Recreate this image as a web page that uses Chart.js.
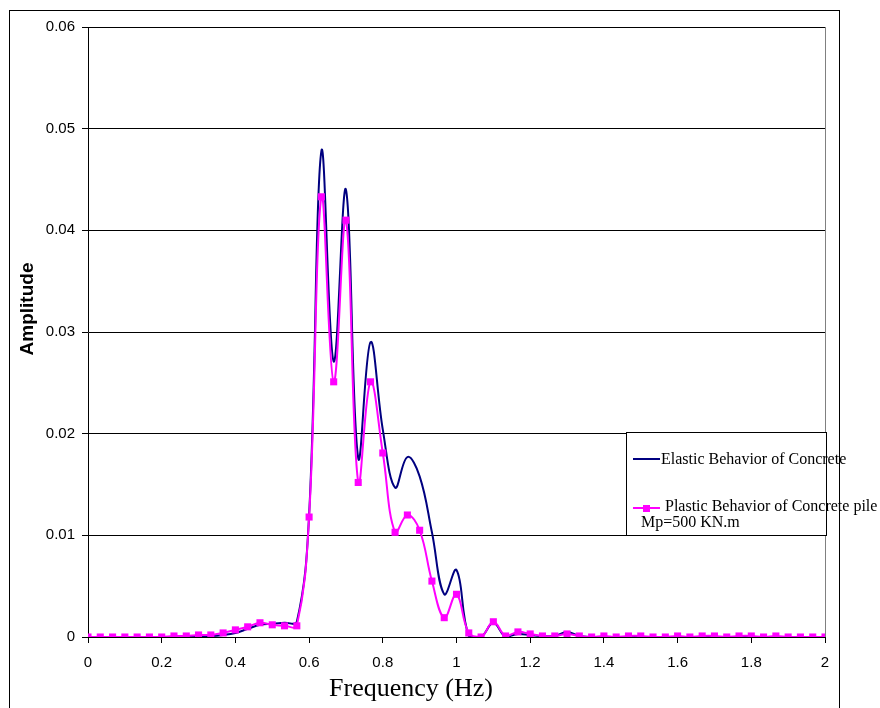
<!DOCTYPE html>
<html>
<head>
<meta charset="utf-8">
<script src="https://cdn.jsdelivr.net/npm/chart.js@4"></script>
<style>
  html, body { margin: 0; padding: 0; background: #fff; }
  #wrap { width: 880px; height: 708px; position: relative; }
</style>
</head>
<body>
<div id="wrap"><canvas id="freqChart" width="880" height="708"></canvas></div>
<script>
// frequency steps (Hz)
const freq = [0, 0.0333, 0.0667, 0.1, 0.1333, 0.1667, 0.2, 0.2333, 0.2667, 0.3,
  0.3333, 0.3667, 0.4, 0.4333, 0.4667, 0.5, 0.5333, 0.5667, 0.6, 0.6333,
  0.6667, 0.7, 0.7333, 0.7667, 0.8, 0.8333, 0.8667, 0.9, 0.9333, 0.9667,
  1.0, 1.0333, 1.0667, 1.1, 1.1333, 1.1667, 1.2, 1.2333, 1.2667, 1.3,
  1.3333, 1.3667, 1.4, 1.4333, 1.4667, 1.5, 1.5333, 1.5667, 1.6, 1.6333,
  1.6667, 1.7, 1.7333, 1.7667, 1.8, 1.8333, 1.8667, 1.9, 1.9333, 1.9667, 2.0];

// elastic behavior amplitudes
const elastic = [0, 0, 0, 0, 0, 0, 0, 0, 0, 0.0001,
  0.0001, 0.0002, 0.0004, 0.0008, 0.0012, 0.0013, 0.0014, 0.0015, 0.0120, 0.0478,
  0.0271, 0.0440, 0.0176, 0.0290, 0.0204, 0.0147, 0.0177, 0.0158, 0.0103, 0.0042,
  0.0066, 0.0001, 0, 0.0014, 0, 0.0003, 0.0002, 0.0001, 0.0001, 0.0005,
  0.0001, 0, 0, 0, 0, 0, 0, 0, 0, 0,
  0, 0, 0, 0, 0, 0, 0, 0, 0, 0, 0];

// plastic behavior amplitudes (Mp=500 KN.m)
const plastic = [0, 0, 0, 0, 0, 0, 0, 0.0001, 0.0001, 0.0002,
  0.0002, 0.0004, 0.0007, 0.0010, 0.0014, 0.0012, 0.0011, 0.0011, 0.0118, 0.0433,
  0.0251, 0.0410, 0.0152, 0.0251, 0.0181, 0.0103, 0.0120, 0.0105, 0.0055, 0.0019,
  0.0042, 0.0004, 0, 0.0015, 0.0001, 0.0005, 0.0003, 0.0001, 0.0001, 0.0003,
  0.0001, 0, 0.0001, 0, 0.0001, 0.0001, 0, 0, 0.0001, 0,
  0.0001, 0.0001, 0, 0.0001, 0.0001, 0, 0.0001, 0, 0, 0, 0];

const seriesNames = ['Elastic Behavior of Concrete', 'Plastic Behavior of Concrete pile', 'Mp=500 KN.m'];

const toPoints = arr => arr.map((v, i) => ({ x: freq[i], y: v }));

// frame, titles and the boxed legend, drawn on top
const decorations = {
  id: 'decorations',
  afterDraw(chart) {
    const ctx = chart.ctx;
    const a = chart.chartArea;
    ctx.save();
    // outer frame
    ctx.strokeStyle = '#000';
    ctx.lineWidth = 1;
    ctx.strokeRect(9.5, 10.5, 830, 720);
    // right border of plot area
    ctx.strokeStyle = '#808080';
    ctx.beginPath();
    ctx.moveTo(a.right + 0.5, a.top);
    ctx.lineTo(a.right + 0.5, a.bottom);
    ctx.stroke();

    // axis titles
    ctx.fillStyle = '#000';
    ctx.font = '26px "Liberation Serif", "Times New Roman", serif';
    ctx.textAlign = 'center';
    ctx.textBaseline = 'middle';
    ctx.fillText('Frequency (Hz)', 411, 689);
    ctx.translate(28, 309);
    ctx.rotate(-Math.PI / 2);
    ctx.font = 'bold 19px "Liberation Sans", Arial, sans-serif';
    ctx.fillText('Amplitude', 0, 0);
    ctx.setTransform(1, 0, 0, 1, 0, 0);

    // legend box
    ctx.fillStyle = '#fff';
    ctx.fillRect(626, 432, 200, 103);
    ctx.strokeStyle = '#000';
    ctx.strokeRect(626.5, 432.5, 200, 103);
    ctx.lineWidth = 2;
    ctx.strokeStyle = '#000080';
    ctx.beginPath();
    ctx.moveTo(633, 459);
    ctx.lineTo(660, 459);
    ctx.stroke();
    ctx.strokeStyle = '#FF00FF';
    ctx.beginPath();
    ctx.moveTo(633, 508);
    ctx.lineTo(660, 508);
    ctx.stroke();
    ctx.fillStyle = '#FF00FF';
    ctx.fillRect(643, 505, 7, 7);

    ctx.fillStyle = '#000';
    ctx.font = '16px "Liberation Serif", "Times New Roman", serif';
    ctx.textAlign = 'left';
    ctx.textBaseline = 'middle';
    ctx.fillText(seriesNames[0], 661, 460);
    ctx.fillText(seriesNames[1], 665, 507);
    ctx.fillText(seriesNames[2], 641, 523);
    ctx.restore();
  }
};

const ctx = document.getElementById('freqChart').getContext('2d');
new Chart(ctx, {
  type: 'line',
  data: {
    datasets: [{
      label: seriesNames[0],
      data: toPoints(elastic),
      borderColor: '#000080',
      borderWidth: 2,
      pointRadius: 0,
      tension: 0.4,
      fill: false,
      order: 1
    }, {
      label: seriesNames[1],
      data: toPoints(plastic),
      borderColor: '#FF00FF',
      backgroundColor: '#FF00FF',
      borderWidth: 2,
      pointStyle: 'rect',
      pointRadius: 5,
      pointBorderWidth: 0,
      tension: 0.4,
      fill: false,
      order: 0
    }]
  },
  options: {
    responsive: false,
    animation: false,
    layout: { padding: { top: 27, right: 55, left: 0, bottom: 0 } },
    plugins: {
      legend: { display: false },
      tooltip: { enabled: false }
    },
    scales: {
      x: {
        type: 'linear',
        min: 0,
        max: 2,
        afterFit: s => { s.height = 71; },
        border: { color: '#000', width: 1 },
        grid: { drawOnChartArea: false, drawTicks: true, tickLength: 6, color: '#000' },
        ticks: {
          stepSize: 0.2,
          padding: 11,
          maxRotation: 0,
          color: '#000',
          font: { family: '"Liberation Sans", Arial, sans-serif', size: 15 },
          callback: v => String(Math.round(v * 10) / 10)
        }
      },
      y: {
        min: 0,
        max: 0.06,
        afterFit: s => { s.width = 88; },
        border: { color: '#000', width: 1 },
        grid: { color: '#000', tickLength: 6, lineWidth: 1 },
        ticks: {
          stepSize: 0.01,
          padding: 7,
          color: '#000',
          font: { family: '"Liberation Sans", Arial, sans-serif', size: 15 },
          callback: v => (Math.abs(v) < 1e-9 ? '0' : v.toFixed(2))
        }
      }
    }
  },
  plugins: [decorations]
});
</script>
</body>
</html>
